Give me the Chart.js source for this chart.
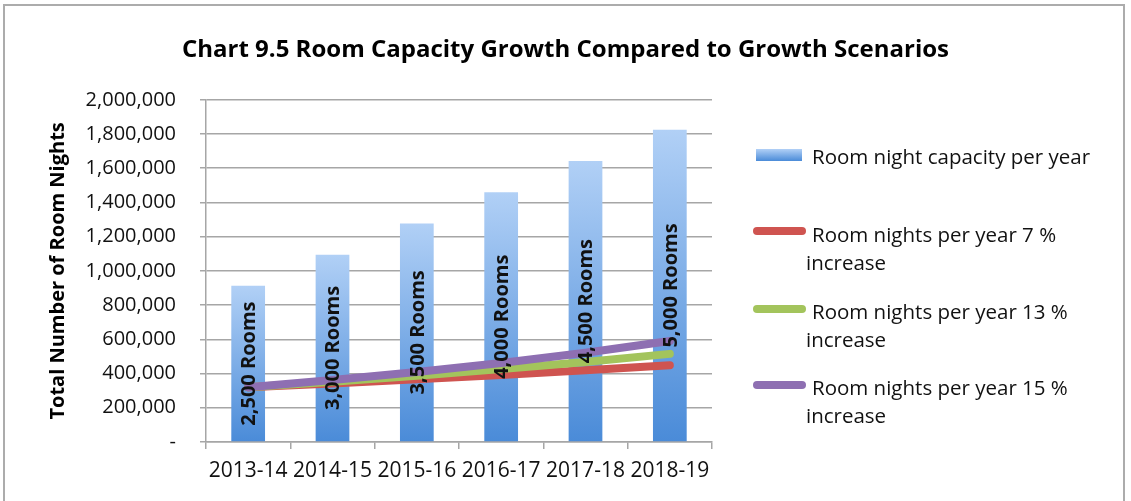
<!DOCTYPE html>
<html>
<head>
<meta charset="utf-8">
<script src="https://cdn.jsdelivr.net/npm/chart.js@4.4.1/dist/chart.umd.min.js"></script>
<style>
  html, body { margin: 0; padding: 0; background: #ffffff; }
  #wrap { position: relative; width: 1131px; height: 501px; overflow: hidden; font-family: "Open Sans", sans-serif; }
  #frame { position: absolute; left: 3px; top: 4px; width: 1122px; height: 600px; border: 2px solid #acacac; box-sizing: border-box; pointer-events: none; }
  #chart { position: absolute; left: 0; top: 0; }
  .lg { position: absolute; color: #111; font-size: 20.5px; line-height: 28px; white-space: nowrap; }
  .sw { position: absolute; }
</style>
</head>
<body>
<div id="wrap">
  <canvas id="chart" width="1131" height="501"></canvas>
  <div id="legend"></div>
  <div id="frame"></div>
</div>
<script>
// ---- data ----
const categories = ["2013-14", "2014-15", "2015-16", "2016-17", "2017-18", "2018-19"];
const roomCounts = [2500, 3000, 3500, 4000, 4500, 5000];
const capacity = [912500, 1095000, 1277500, 1460000, 1642500, 1825000];
const growth7 = [320000, 342000, 366000, 392000, 420000, 449000];
const growth13 = [320000, 352000, 387000, 426000, 468000, 515000];
const growth15 = [320000, 362000, 409000, 462000, 522000, 590000];
const seriesNames = [
  "Room night capacity per year",
  "Room nights per year 7 % increase",
  "Room nights per year 13 % increase",
  "Room nights per year 15 % increase"
];
const yTickValues = [0, 200000, 400000, 600000, 800000, 1000000, 1200000, 1400000, 1600000, 1800000, 2000000];

const colors = { red: "#cf5450", green: "#a3c45c", purple: "#8e6fb2", barTop: "#b1d0f6", barBottom: "#4a8bd8" };

function barGradient(ctx) {
  const chart = ctx.chart;
  const area = chart.chartArea;
  if (!area || ctx.type !== "data") return colors.barBottom;
  const y = chart.scales.y;
  const top = y.getPixelForValue(ctx.raw);
  const bottom = y.getPixelForValue(0);
  const g = chart.ctx.createLinearGradient(0, top, 0, bottom);
  g.addColorStop(0, colors.barTop);
  g.addColorStop(1, colors.barBottom);
  return g;
}

const barLabelPlugin = {
  id: "barLabels",
  afterDatasetsDraw(chart) {
    const meta = chart.getDatasetMeta(0);
    const ctx = chart.ctx;
    ctx.save();
    ctx.font = "bold 20px 'Open Sans'";
    ctx.fillStyle = "#111";
    ctx.textAlign = "center";
    ctx.textBaseline = "middle";
    meta.data.forEach((bar, i) => {
      const cy = (bar.y + bar.base) / 2;
      ctx.save();
      ctx.translate(bar.x, cy);
      ctx.rotate(-Math.PI / 2);
      ctx.fillText(roomCounts[i].toLocaleString("en-US") + " Rooms", 0, 1);
      ctx.restore();
    });
    ctx.restore();
  }
};

const lineDs = (label, data, color, order) => ({
  type: "line", label, data, borderColor: color, backgroundColor: color,
  borderWidth: 8, pointRadius: 0, tension: 0, borderCapStyle: "round", borderJoinStyle: "round", order
});

const chart = new Chart(document.getElementById("chart"), {
  data: {
    labels: categories,
    datasets: [
      { type: "bar", label: seriesNames[0], data: capacity, backgroundColor: barGradient, borderWidth: 0,
        barPercentage: 0.4, categoryPercentage: 1.0, order: 4 },
      lineDs(seriesNames[1], growth7, colors.red, 3),
      lineDs(seriesNames[2], growth13, colors.green, 2),
      lineDs(seriesNames[3], growth15, colors.purple, 1)
    ]
  },
  options: {
    responsive: false,
    devicePixelRatio: 1,
    animation: false,
    layout: { padding: { left: 0, right: 0, top: 0, bottom: 0 } },
    plugins: {
      legend: { display: false },
      tooltip: { enabled: false },
      title: {
        display: true,
        text: "Chart 9.5 Room Capacity Growth Compared to Growth Scenarios",
        color: "#000",
        font: { family: "'Open Sans'", size: 24, weight: "bold" },
        padding: { top: 36, bottom: 35 },
        align: "center",
        fullSize: true
      }
    },
    scales: {
      x: {
        offset: true,
        grid: { offset: true, drawOnChartArea: false, drawTicks: true, tickLength: 7, color: "#a6a6a6", lineWidth: 1.5 },
        border: { display: true, color: "#a6a6a6", width: 1.5 },
        ticks: { color: "#111", font: { family: "'Open Sans'", size: 21 }, padding: 9, maxRotation: 0, autoSkip: false },
        afterFit(scale) { scale.height = 59; }
      },
      y: {
        min: 0, max: 2000000,
        afterBuildTicks(scale) { scale.ticks = yTickValues.map(v => ({ value: v })); },
        grid: { color: "#a6a6a6", lineWidth: 1.5, tickLength: 6 },
        border: { display: true, color: "#a6a6a6", width: 1.5 },
        ticks: {
          color: "#111", font: { family: "'Open Sans'", size: 20 }, padding: 24,
          callback: v => v === 0 ? "-" : Number(v).toLocaleString("en-US")
        },
        title: {
          display: true, text: "Total Number of Room Nights", color: "#000",
          font: { family: "'Open Sans'", size: 20, weight: "bold" }, padding: { top: 46, bottom: 0 }
        },
        afterFit(scale) { scale.width = 206; }
      },
      yRight: {
        position: "right",
        display: true,
        grid: { display: false },
        border: { display: false },
        ticks: { display: false },
        afterFit(scale) { scale.width = 419; }
      }
    }
  },
  plugins: [barLabelPlugin]
});

// ---- HTML legend ----
const legend = document.getElementById("legend");
const legendRows = [
  { swatch: "bar", swY: 149, lines: [seriesNames[0]], textY: 142 },
  { swatch: colors.red, swY: 227, lines: ["Room nights per year 7 %", "increase"], textY: 220 },
  { swatch: colors.green, swY: 305, lines: ["Room nights per year 13 %", "increase"], textY: 297 },
  { swatch: colors.purple, swY: 381, lines: ["Room nights per year 15 %", "increase"], textY: 373 }
];
legendRows.forEach(r => {
  const sw = document.createElement("div");
  sw.className = "sw";
  if (r.swatch === "bar") {
    sw.style.cssText = `left:756px;top:${r.swY}px;width:46px;height:12px;background:linear-gradient(${colors.barTop},${colors.barBottom});`;
  } else {
    sw.style.cssText = `left:753px;top:${r.swY}px;width:53px;height:8px;border-radius:4px;background:${r.swatch};`;
  }
  legend.appendChild(sw);
  r.lines.forEach((t, i) => {
    const d = document.createElement("div");
    d.className = "lg";
    d.textContent = t;
    d.style.left = (i === 0 ? 812 : 806) + "px";
    d.style.top = (r.textY + i * 28) + "px";
    legend.appendChild(d);
  });
});
</script>
</body>
</html>
